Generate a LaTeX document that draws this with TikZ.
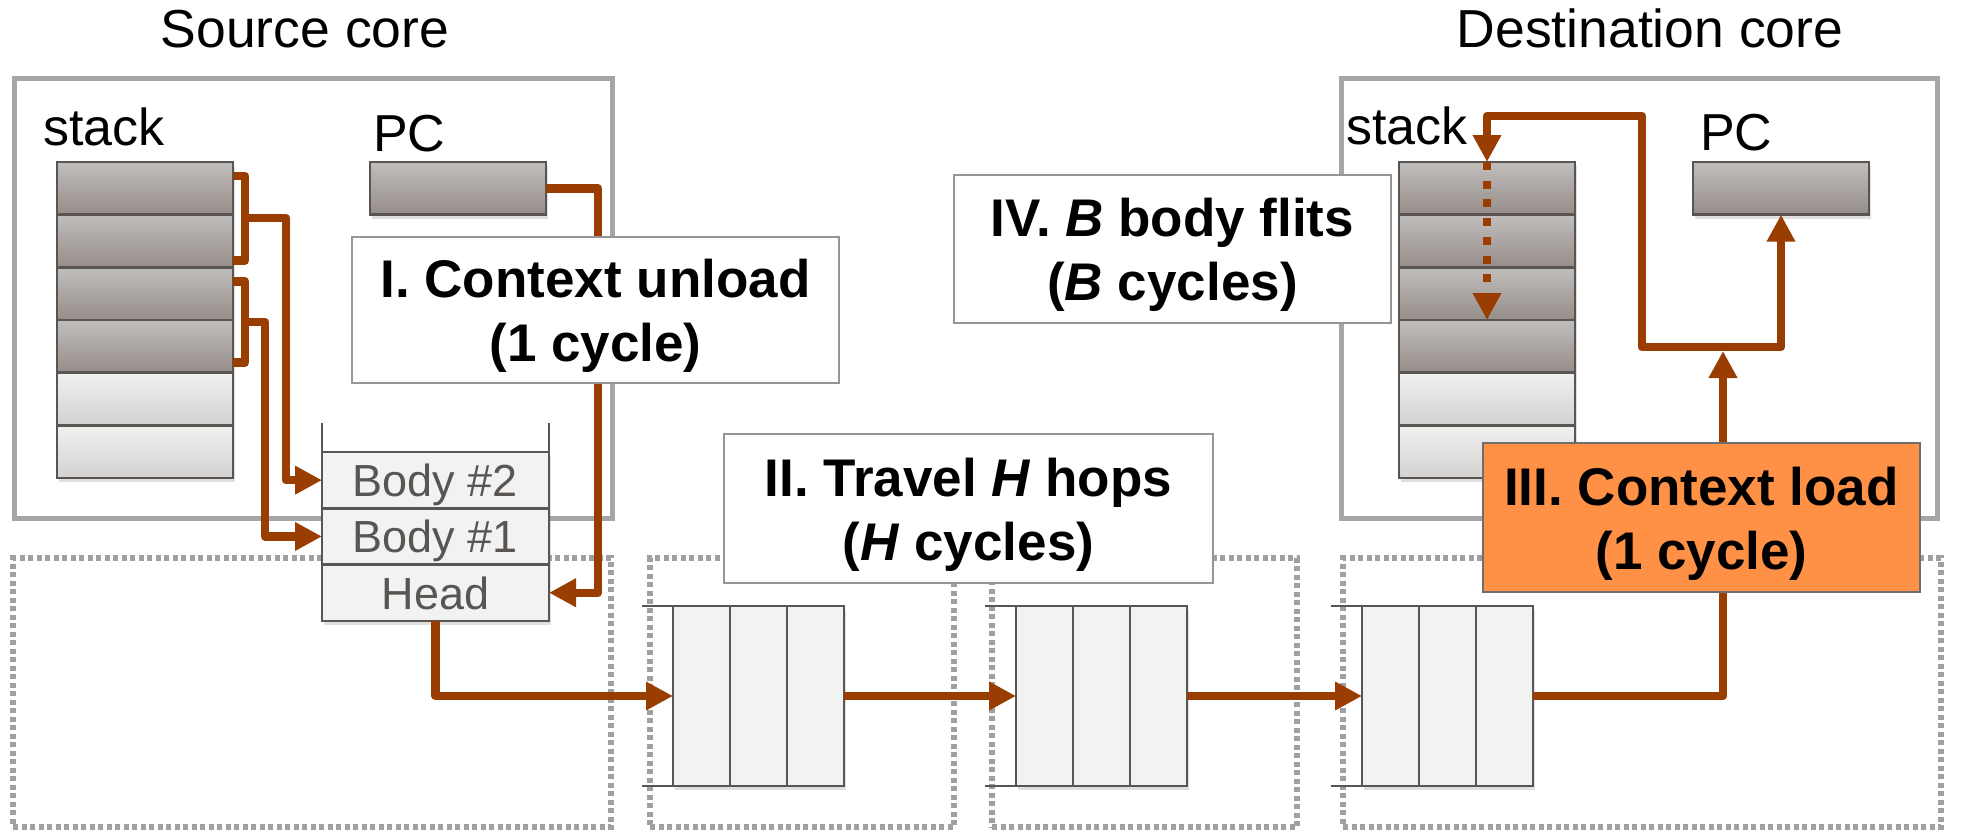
\documentclass[tikz,border=0pt]{standalone}
\usepackage{fontspec}
\setmainfont{Liberation Sans}
\usetikzlibrary{arrows.meta,shadows,calc}
\pgfdeclarelayer{front}
\pgfsetlayers{main,front}
\definecolor{arr}{RGB}{153,61,0}
\definecolor{coregray}{RGB}{166,166,166}
\definecolor{dotgray}{RGB}{160,160,160}
\definecolor{celledge}{RGB}{89,85,82}
\definecolor{darktop}{RGB}{192,190,188}
\definecolor{darkbot}{RGB}{150,141,137}
\definecolor{lighttop}{RGB}{240,240,239}
\definecolor{lightbot}{RGB}{212,210,208}
\definecolor{fifofill}{RGB}{242,242,242}
\definecolor{orangefill}{RGB}{255,145,71}
\definecolor{boxedge}{RGB}{150,150,150}
\definecolor{orangeedge}{RGB}{110,110,110}
\newcommand\mytitlefont{\fontsize{53.5pt}{60pt}\selectfont}
\newcommand\mylblfont{\fontsize{52pt}{60pt}\selectfont}
\newcommand\mycellfont{\fontsize{45pt}{50pt}\selectfont}
\newcommand\myboxfont{\fontsize{53pt}{64pt}\selectfont\bfseries}
\begin{document}
\begin{tikzpicture}[x=1pt,y=-1pt,
  core/.style={draw=coregray, line width=5pt, fill=white, inner sep=0pt, outer sep=0pt, anchor=north west,
    drop shadow={shadow xshift=2pt, shadow yshift=-3pt, opacity=0.3}},
  router/.style={draw=dotgray, line width=5.5pt, dash pattern=on 5pt off 3.5pt, inner sep=0pt, outer sep=0pt, anchor=north west},
  cellbase/.style={draw=celledge, line width=2.5pt, inner sep=0pt, outer sep=0pt,
    minimum width=176pt, minimum height=52.67pt, anchor=north,
    drop shadow={shadow xshift=2pt, shadow yshift=-4pt, opacity=0.25}},
  darkcell/.style={cellbase, top color=darktop, bottom color=darkbot},
  lightcell/.style={cellbase, top color=lighttop, bottom color=lightbot},
  fifocell/.style={draw=celledge, line width=2.5pt, fill=fifofill, minimum width=227pt, minimum height=56.3pt,
    inner sep=0pt, outer sep=0pt, anchor=north, font=\mycellfont, text=celledge, text height=33pt, text depth=0pt,
    drop shadow={shadow xshift=2pt, shadow yshift=-4pt, opacity=0.25}},
  bufcell/.style={draw=celledge, line width=2.5pt, fill=fifofill, minimum width=57pt, minimum height=180pt,
    inner sep=0pt, outer sep=0pt, anchor=north west,
    drop shadow={shadow xshift=2pt, shadow yshift=-4pt, opacity=0.25}},
  edgeline/.style={draw=celledge, line width=2.5pt},
  stepbox/.style={draw=boxedge, line width=1.5pt, fill=white, inner sep=0pt, outer sep=0pt},
  loadbox/.style={draw=orangeedge, line width=1.5pt, fill=orangefill, inner sep=0pt, outer sep=0pt},
  steptext/.style={font=\myboxfont, align=center, inner sep=0pt, yshift=-6pt},
  oline/.style={draw=arr, line width=8.5pt, line join=round},
  oarrow/.style={oline, -{Triangle[length=27pt,width=27pt]}},
  bothways/.style={oline, {Triangle[length=27pt,width=27pt]}-{Triangle[length=27pt,width=27pt]}},
  ]
\useasboundingbox (0,0) rectangle (1984,835);

% router tiles
\node[router, minimum width=598pt, minimum height=269pt] (r1) at (13,558) {};
\node[router, minimum width=304pt, minimum height=269pt] (r2) at (650,558) {};
\node[router, minimum width=305pt, minimum height=269pt] (r3) at (992,558) {};
\node[router, minimum width=598pt, minimum height=269pt] (r4) at (1343,558) {};

% cores
\node[core, minimum width=598pt, minimum height=440pt] (score) at (14,78) {};
\node[core, minimum width=596pt, minimum height=440pt] (dcore) at (1341,78) {};

% source stack and PC
\node[darkcell, anchor=north west] (ss1) at (57,162) {};
\node[darkcell] (ss2) at (ss1.south) {};
\node[darkcell] (ss3) at (ss2.south) {};
\node[darkcell] (ss4) at (ss3.south) {};
\node[lightcell] (ss5) at (ss4.south) {};
\node[lightcell] (ss6) at (ss5.south) {};
\node[darkcell, anchor=north west] (spc) at (370,162) {};

% destination stack and PC
\node[darkcell, anchor=north west] (ds1) at (1399,162) {};
\node[darkcell] (ds2) at (ds1.south) {};
\node[darkcell] (ds3) at (ds2.south) {};
\node[darkcell] (ds4) at (ds3.south) {};
\node[lightcell] (ds5) at (ds4.south) {};
\node[lightcell] (ds6) at (ds5.south) {};
\node[darkcell, anchor=north west] (dpc) at (1693,162) {};

% packet FIFO
\node[fifocell, anchor=north west] (fb2) at (322,452) {Body \#2};
\node[fifocell] (fb1) at (fb2.south) {Body \#1};
\node[fifocell] (fh) at (fb1.south) {Head};
\draw[edgeline] (fb2.north west) -- ++(0,-29);
\draw[edgeline] (fb2.north east) -- ++(0,-29);

% router buffers
\node[bufcell] (b2a) at (673,606) {};
\node[bufcell] (b2b) at (b2a.north east) {};
\node[bufcell] (b2c) at (b2b.north east) {};
\node[bufcell] (b3a) at (1016,606) {};
\node[bufcell] (b3b) at (b3a.north east) {};
\node[bufcell] (b3c) at (b3b.north east) {};
\node[bufcell] (b4a) at (1362,606) {};
\node[bufcell] (b4b) at (b4a.north east) {};
\node[bufcell] (b4c) at (b4b.north east) {};
\foreach \b in {b2a,b3a,b4a}{
  \draw[edgeline] (\b.north west) -- ++(-31,0);
  \draw[edgeline] (\b.south west) -- ++(-31,0);
}

% step boxes, on the front layer (above the connectors)
\begin{pgfonlayer}{front}
\node[stepbox, minimum width=487pt, minimum height=146pt] (unload) at (595.5,310) {};
\node[stepbox, minimum width=489pt, minimum height=149pt] (travel) at (968.5,508.5) {};
\node[loadbox, minimum width=437pt, minimum height=149pt] (load) at (1701.5,517.5) {};
\node[stepbox, minimum width=437pt, minimum height=148pt] (body) at (1172.5,249) {};
\node[steptext] (unloadtxt) at (unload.center) {I. Context unload\\(1 cycle)};
\node[steptext] (traveltxt) at (travel.center) {II. Travel \textit{H} hops\\(\textit{H} cycles)};
\node[steptext] (loadtxt) at (load.center) {III. Context load\\(1 cycle)};
\node[steptext] (bodytxt) at (body.center) {IV. \textit{B} body flits\\(\textit{B} cycles)};
\end{pgfonlayer}

% helper coordinates
\coordinate (br1m) at (245,218);
\coordinate (br2m) at (245,322);
\coordinate (jn) at (1723,347);
\coordinate (jl) at (1642,347);
\coordinate (jr) at (dpc.south |- jn);
\coordinate (jtop) at (1642,116);

% connectors
\draw[oline] ([yshift=-14pt]ss1.north east) -- ++(12,0) |- ([yshift=7pt]ss2.south east);
\draw[oarrow] (br1m) -- ++(41,0) |- (fb2.west);
\draw[oline] ([yshift=-14pt]ss3.north east) -- ++(12,0) |- ([yshift=10pt]ss4.south east);
\draw[oarrow] (br2m) -- ++(20,0) |- (fb1.west);
\draw[oarrow] (spc.east) -- ++(52,0) |- (fh.east);
\draw[oarrow] (fh.south) |- (b2a.west);
\draw[oarrow] (b2c.east) -- (b3a.west);
\draw[oarrow] (b3c.east) -- (b4a.west);
\draw[oline] (b4c.east) -| ([xshift=21.5pt]load.south);
\draw[oarrow] ([xshift=21.5pt]load.north) -- ([yshift=-4pt]jn);
\draw[bothways] (ds1.north) |- (jtop) -- (jl) -- (jr) -- (dpc.south);
\draw[oarrow, dash pattern=on 8pt off 10.7pt, line cap=butt] (ds1.north) -- (ds3.south);

% labels
\node[anchor=base, font=\mytitlefont, inner sep=0pt] (srctitle) at (305,47) {Source core};
\node[anchor=base, font=\mytitlefont, inner sep=0pt] (dsttitle) at (1650,47) {Destination core};
\node[anchor=base west, font=\mylblfont, inner sep=0pt] (sstacklbl) at (43,145) {stack};
\node[anchor=base west, font=\mylblfont, inner sep=0pt] (spclbl) at (373,151) {PC};
\node[anchor=base west, font=\mylblfont, inner sep=0pt] (dstacklbl) at (1346,144) {stack};
\node[anchor=base west, font=\mylblfont, inner sep=0pt] (dpclbl) at (1700,150) {PC};
\end{tikzpicture}
\end{document}
